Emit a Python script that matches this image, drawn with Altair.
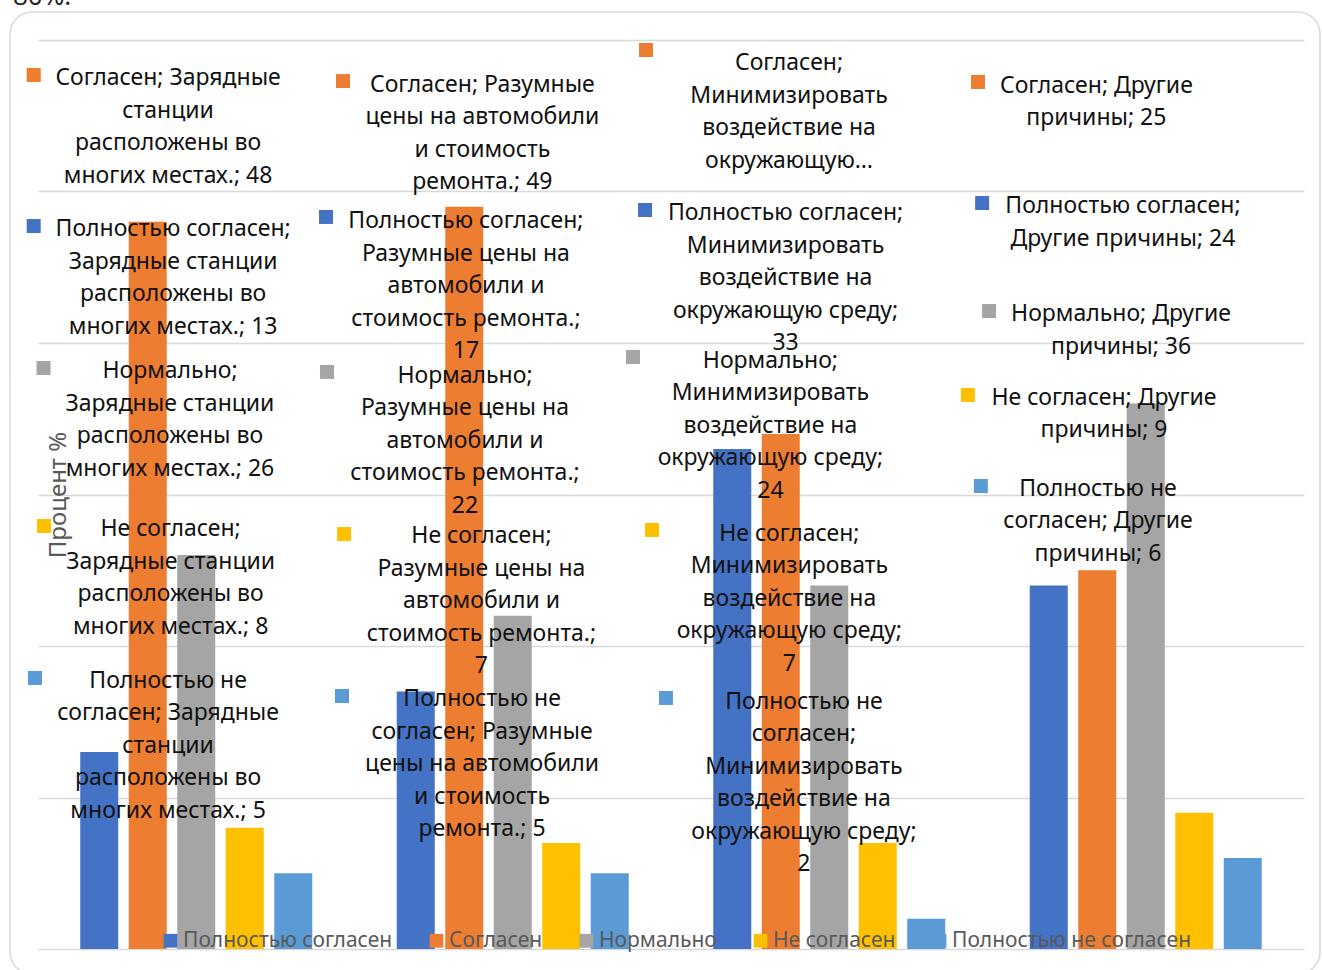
import altair as alt
import pandas as pd

# ---------------- data ----------------
categories = [
    "Зарядные станции расположены во многих местах.",
    "Разумные цены на автомобили и стоимость ремонта.",
    "Минимизировать воздействие на окружающую среду",
    "Другие причины",
]
series = ["Полностью согласен", "Согласен", "Нормально", "Не согласен", "Полностью не согласен"]
colors = ["#4472C4", "#ED7D31", "#A5A5A5", "#FFC000", "#5B9BD5"]

fully_agree = [13, 17, 33, 24]
agree = [48, 49, 34, 25]
neutral = [26, 22, 24, 36]
disagree = [8, 7, 7, 9]
fully_disagree = [5, 5, 2, 6]
values_by_series = [fully_agree, agree, neutral, disagree, fully_disagree]

# data-label texts (wrapped as in the picture), per category, in series order
label_lines = [
    [
        ["Полностью согласен;", "Зарядные станции", "расположены во", "многих местах.; {v}"],
        ["Согласен; Зарядные", "станции", "расположены во", "многих местах.; {v}"],
        ["Нормально;", "Зарядные станции", "расположены во", "многих местах.; {v}"],
        ["Не согласен;", "Зарядные станции", "расположены во", "многих местах.; {v}"],
        ["Полностью не", "согласен; Зарядные", "станции", "расположены во", "многих местах.; {v}"],
    ],
    [
        ["Полностью согласен;", "Разумные цены на", "автомобили и", "стоимость ремонта.;", "{v}"],
        ["Согласен; Разумные", "цены на автомобили", "и стоимость", "ремонта.; {v}"],
        ["Нормально;", "Разумные цены на", "автомобили и", "стоимость ремонта.;", "{v}"],
        ["Не согласен;", "Разумные цены на", "автомобили и", "стоимость ремонта.;", "{v}"],
        ["Полностью не", "согласен; Разумные", "цены на автомобили", "и стоимость", "ремонта.; {v}"],
    ],
    [
        ["Полностью согласен;", "Минимизировать", "воздействие на", "окружающую среду;", "{v}"],
        ["Согласен;", "Минимизировать", "воздействие на", "окружающую…"],
        ["Нормально;", "Минимизировать", "воздействие на", "окружающую среду;", "{v}"],
        ["Не согласен;", "Минимизировать", "воздействие на", "окружающую среду;", "{v}"],
        ["Полностью не", "согласен;", "Минимизировать", "воздействие на", "окружающую среду;", "{v}"],
    ],
    [
        ["Полностью согласен;", "Другие причины; {v}"],
        ["Согласен; Другие", "причины; {v}"],
        ["Нормально; Другие", "причины; {v}"],
        ["Не согласен; Другие", "причины; {v}"],
        ["Полностью не", "согласен; Другие", "причины; {v}"],
    ],
]

# ---------------- label layout (group units on x, percent units on y) ----------------
label_x = [
    [0.427, 0.411, 0.417, 0.419, 0.411],
    [1.352, 1.404, 1.349, 1.401, 1.403],
    [2.362, 2.373, 2.314, 2.374, 2.420],
    [3.428, 3.344, 3.422, 3.368, 3.349],
]
label_y = [
    [47.03, 57.0, 37.66, 27.23, 17.26],
    [47.56, 56.6, 37.39, 26.77, 16.01],
    [48.09, 57.99, 38.38, 26.96, 15.87],
    [48.55, 56.53, 41.42, 35.94, 29.93],
]
key_x = [
    [-0.0136, -0.0136, 0.0174, 0.019, -0.0095],
    [0.910, 0.9637, 0.913, 0.967, 0.9605],
    [1.918, 1.921, 1.880, 1.940, 1.984],
    [2.983, 2.970, 3.005, 2.938, 2.979],
]
key_y = [
    [47.72, 57.69, 38.35, 27.92, 17.89],
    [48.32, 57.29, 38.09, 27.39, 16.7],
    [48.78, 59.34, 39.08, 27.66, 16.57],
    [49.24, 57.23, 42.11, 36.57, 30.56],
]

# ---------------- tables ----------------
bar_rows = []
lab_rows = []
for si, s in enumerate(series):
    for ci, c in enumerate(categories):
        v = values_by_series[si][ci]
        bar_rows.append({"category": c, "series": s, "value": v})
        text = "\n".join(line.format(v=v) for line in label_lines[ci][si])
        lab_rows.append({
            "series": s, "text": text,
            "lx": label_x[ci][si], "ly": label_y[ci][si],
            "kx": key_x[ci][si], "ky": key_y[ci][si],
        })
bars_df = pd.DataFrame(bar_rows)
labels_df = pd.DataFrame(lab_rows)

FONT = "Noto Sans"
y_scale = alt.Scale(domain=[0, 60], nice=False, zero=True)
gx_scale = alt.Scale(domain=[0, 4], nice=False, zero=False)
color_scale = alt.Scale(domain=series, range=colors)

y_axis = alt.Axis(title="Процент %", titleFont=FONT, titleFontSize=24,
                  titleFontWeight="normal", titleColor="#595959",
                  titleX=20, titleY=454.5, titleAngle=270,
                  titleAlign="center", titleBaseline="middle",
                  labels=False, ticks=False, domain=False,
                  grid=True, gridColor="#d9d9d9", gridWidth=1.3,
                  values=[0, 10, 20, 30, 40, 50, 60])

bars = alt.Chart(bars_df).mark_bar().encode(
    x=alt.X("category:N", sort=categories, axis=None,
            scale=alt.Scale(paddingInner=0, paddingOuter=0)),
    xOffset=alt.XOffset("series:N", sort=series,
                        scale=alt.Scale(paddingInner=0.216, paddingOuter=0.871)),
    y=alt.Y("value:Q", scale=y_scale, axis=y_axis),
    color=alt.Color("series:N", sort=series, scale=color_scale,
                    legend=alt.Legend(title=None, orient="none", direction="horizontal",
                                      legendX=122, legendY=890,
                                      symbolType="square", symbolSize=190,
                                      symbolStrokeWidth=0,
                                      labelFont=FONT, labelFontSize=21,
                                      labelColor="#595959", labelOffset=2,
                                      columnPadding=33, padding=0,
                                      labelLimit=400)),
)

keys = alt.Chart(labels_df).mark_square(size=196, opacity=1).encode(
    x=alt.X("kx:Q", scale=gx_scale, axis=None),
    y=alt.Y("ky:Q", scale=y_scale, axis=y_axis),
    color=alt.Color("series:N", sort=series, scale=color_scale, legend=None),
)

texts = alt.Chart(labels_df).mark_text(
    align="center", baseline="alphabetic", lineBreak="\n", lineHeight=32.5,
    font=FONT, fontSize=23, color="#111111",
).encode(
    x=alt.X("lx:Q", scale=gx_scale, axis=None),
    y=alt.Y("ly:Q", scale=y_scale, axis=y_axis),
    text="text:N",
)

frame_df = pd.DataFrame({"k": [0]})
frame = alt.Chart(frame_df).mark_rect(
    fillOpacity=0, stroke="#d9d9d9", strokeWidth=1.5, cornerRadius=22
).encode(
    x=alt.value(-28), x2=alt.value(1282), y=alt.value(-28), y2=alt.value(934),
)

above = alt.Chart(frame_df).mark_text(
    text="80%.", align="left", baseline="alphabetic", font=FONT, fontSize=26,
    color="#262626"
).encode(x=alt.value(-25), y=alt.value(-35))

chart = alt.layer(frame, above, bars, keys, texts).resolve_scale(
    x="independent"
).properties(
    width=1266, height=909,
    autosize=alt.AutoSizeParams(type="none"),
    padding={"left": 38, "top": 40, "right": 18, "bottom": 21},
    background="white",
).configure_view(stroke=None)

chart.save("out.html", embed_options={"renderer": "svg", "actions": False})
